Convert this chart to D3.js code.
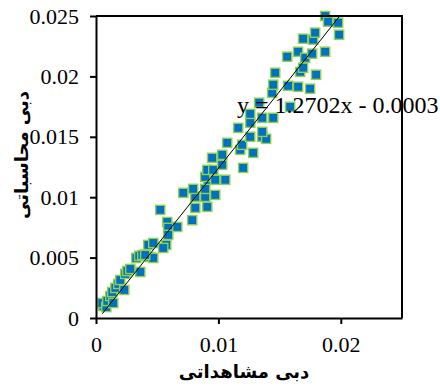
<!DOCTYPE html>
<html>
<head>
<meta charset="utf-8">
<script src="https://cdn.jsdelivr.net/npm/d3@7"></script>
<style>
  body { margin: 0; background: #fff; }
  svg { display: block; }
</style>
</head>
<body>
<div id="chart"></div>
<script>
// observed discharge (x) vs computed discharge (y)
const observed = [
  0.00060, 0.00051, 0.00084, 0.00092, 0.00117, 0.00133, 0.00141, 0.00158, 0.00182, 0.00198,
  0.00231, 0.00239, 0.00256, 0.00280, 0.00362, 0.00329, 0.00353, 0.00378, 0.00443, 0.00468,
  0.00427, 0.00468, 0.00574, 0.00549, 0.00402, 0.00525, 0.00582, 0.00590, 0.00590, 0.00664,
  0.00713, 0.00786, 0.00811, 0.00811, 0.00794, 0.00892, 0.00909, 0.00892, 0.00974, 0.00917,
  0.00892, 0.00909, 0.00958, 0.00974, 0.01056, 0.00949, 0.01031, 0.01031, 0.01072, 0.01178,
  0.01202, 0.01284, 0.01194, 0.01260, 0.01358, 0.01390, 0.01162, 0.01260, 0.01358, 0.01358,
  0.01448, 0.01260, 0.01333, 0.01586, 0.01439, 0.01448, 0.01464, 0.01570, 0.01651, 0.01749,
  0.01668, 0.01798, 0.01692, 0.01562, 0.01651, 0.01709, 0.01766, 0.01872, 0.01692, 0.01774,
  0.01790, 0.01872, 0.01896, 0.01978, 0.01986
];
const computed = [
  0.00100, 0.00124, 0.00091, 0.00141, 0.00182, 0.00215, 0.00124, 0.00249, 0.00282, 0.00315,
  0.00232, 0.00365, 0.00389, 0.00406, 0.00381, 0.00497, 0.00514, 0.00522, 0.00505, 0.00497,
  0.00605, 0.00621, 0.00605, 0.00580, 0.00522, 0.00895, 0.00795, 0.00746, 0.00688, 0.00754,
  0.01036, 0.00810, 0.00912, 0.01003, 0.01069, 0.01003, 0.00920, 0.01069, 0.01019, 0.01144,
  0.01168, 0.01226, 0.01226, 0.01144, 0.01144, 0.01326, 0.01268, 0.01351, 0.01450, 0.01392,
  0.01243, 0.01367, 0.01434, 0.01500, 0.01500, 0.01483, 0.01574, 0.01616, 0.01541, 0.01657,
  0.01657, 0.01690, 0.01782, 0.01748, 0.01864, 0.01931, 0.02030, 0.01922, 0.01914, 0.01898,
  0.02038, 0.02014, 0.02072, 0.02163, 0.02204, 0.02154, 0.02188, 0.02204, 0.02312, 0.02304,
  0.02362, 0.02500, 0.02453, 0.02444, 0.02345
];
const xTicks = [0, 0.01, 0.02];
const yTicks = [0, 0.005, 0.01, 0.015, 0.02, 0.025];
const trendSlope = 1.2702;
const trendIntercept = -0.0003;
const trendLabel = "y = 1.2702x - 0.0003";
const xTitle = "دبی مشاهداتی";
const yTitle = "دبی محاسباتی";

const width = 440, height = 389;
const margin = {top: 16, right: 38, bottom: 71, left: 96};
const serif = "'Liberation Serif', 'Times New Roman', serif";

const svg = d3.select("#chart").append("svg")
  .attr("width", width)
  .attr("height", height);

const x = d3.scaleLinear().domain([0, 0.025]).range([margin.left, width - margin.right]);
const y = d3.scaleLinear().domain([0, 0.025]).range([height - margin.bottom, margin.top]);

const points = observed.map((d, i) => ({x: d, y: computed[i]}));

// markers
const size = 9.2;
svg.append("g").selectAll("rect").data(points).enter()
  .append("rect")
  .attr("x", d => x(d.x) - size / 2)
  .attr("y", d => y(d.y) - size / 2)
  .attr("width", size)
  .attr("height", size)
  .attr("fill", "#0070C0")
  .attr("stroke", "#92D050")
  .attr("stroke-width", 1.4);

// linear trendline over the observed range
const ext = d3.extent(observed);
const line = d3.line().x(d => x(d)).y(d => y(trendSlope * d + trendIntercept));
svg.append("path")
  .datum(ext)
  .attr("d", line)
  .attr("fill", "none")
  .attr("stroke", "#000")
  .attr("stroke-width", 1);

// frame (top and right)
svg.append("path")
  .attr("d", `M${x(0)},${y(0.025)}H${x(0.025)}V${y(0)}`)
  .attr("fill", "none")
  .attr("stroke", "#000")
  .attr("stroke-width", 2);

const xAxis = svg.append("g")
  .attr("transform", `translate(0,${y(0)})`)
  .call(d3.axisBottom(x).tickValues(xTicks).tickSize(6).tickSizeOuter(0)
    .tickFormat(d => d === 0 ? "0" : d3.format("")(d)));
const yAxis = svg.append("g")
  .attr("transform", `translate(${x(0)},0)`)
  .call(d3.axisLeft(y).tickValues(yTicks).tickSize(6).tickSizeOuter(0)
    .tickFormat(d => d === 0 ? "0" : d3.format("")(+d.toFixed(3))));

[xAxis, yAxis].forEach(g => {
  g.attr("font-family", null).attr("font-size", null);
  g.select(".domain").attr("stroke-width", 2);
  g.selectAll(".tick line").attr("stroke-width", 2);
  g.selectAll("text")
    .style("font-family", serif)
    .style("font-size", "22px")
    .attr("fill", "#000");
});
xAxis.selectAll("text").attr("y", 34).attr("dy", 0);
yAxis.selectAll("text").attr("x", -17);

// trendline equation
svg.append("text")
  .attr("x", 237)
  .attr("y", 113)
  .style("font-family", serif)
  .style("font-size", "24px")
  .text(trendLabel);

// axis titles
svg.append("text")
  .attr("x", 244)
  .attr("y", 378)
  .attr("text-anchor", "middle")
  .attr("direction", "rtl")
  .style("font-family", "'DejaVu Sans', sans-serif")
  .style("font-weight", "bold")
  .style("font-size", "18px")
  .text(xTitle);

svg.append("text")
  .attr("transform", `translate(28,155) rotate(-90)`)
  .attr("text-anchor", "middle")
  .attr("direction", "rtl")
  .style("font-family", "'DejaVu Sans', sans-serif")
  .style("font-weight", "bold")
  .style("font-size", "18px")
  .text(yTitle);
</script>
</body>
</html>
